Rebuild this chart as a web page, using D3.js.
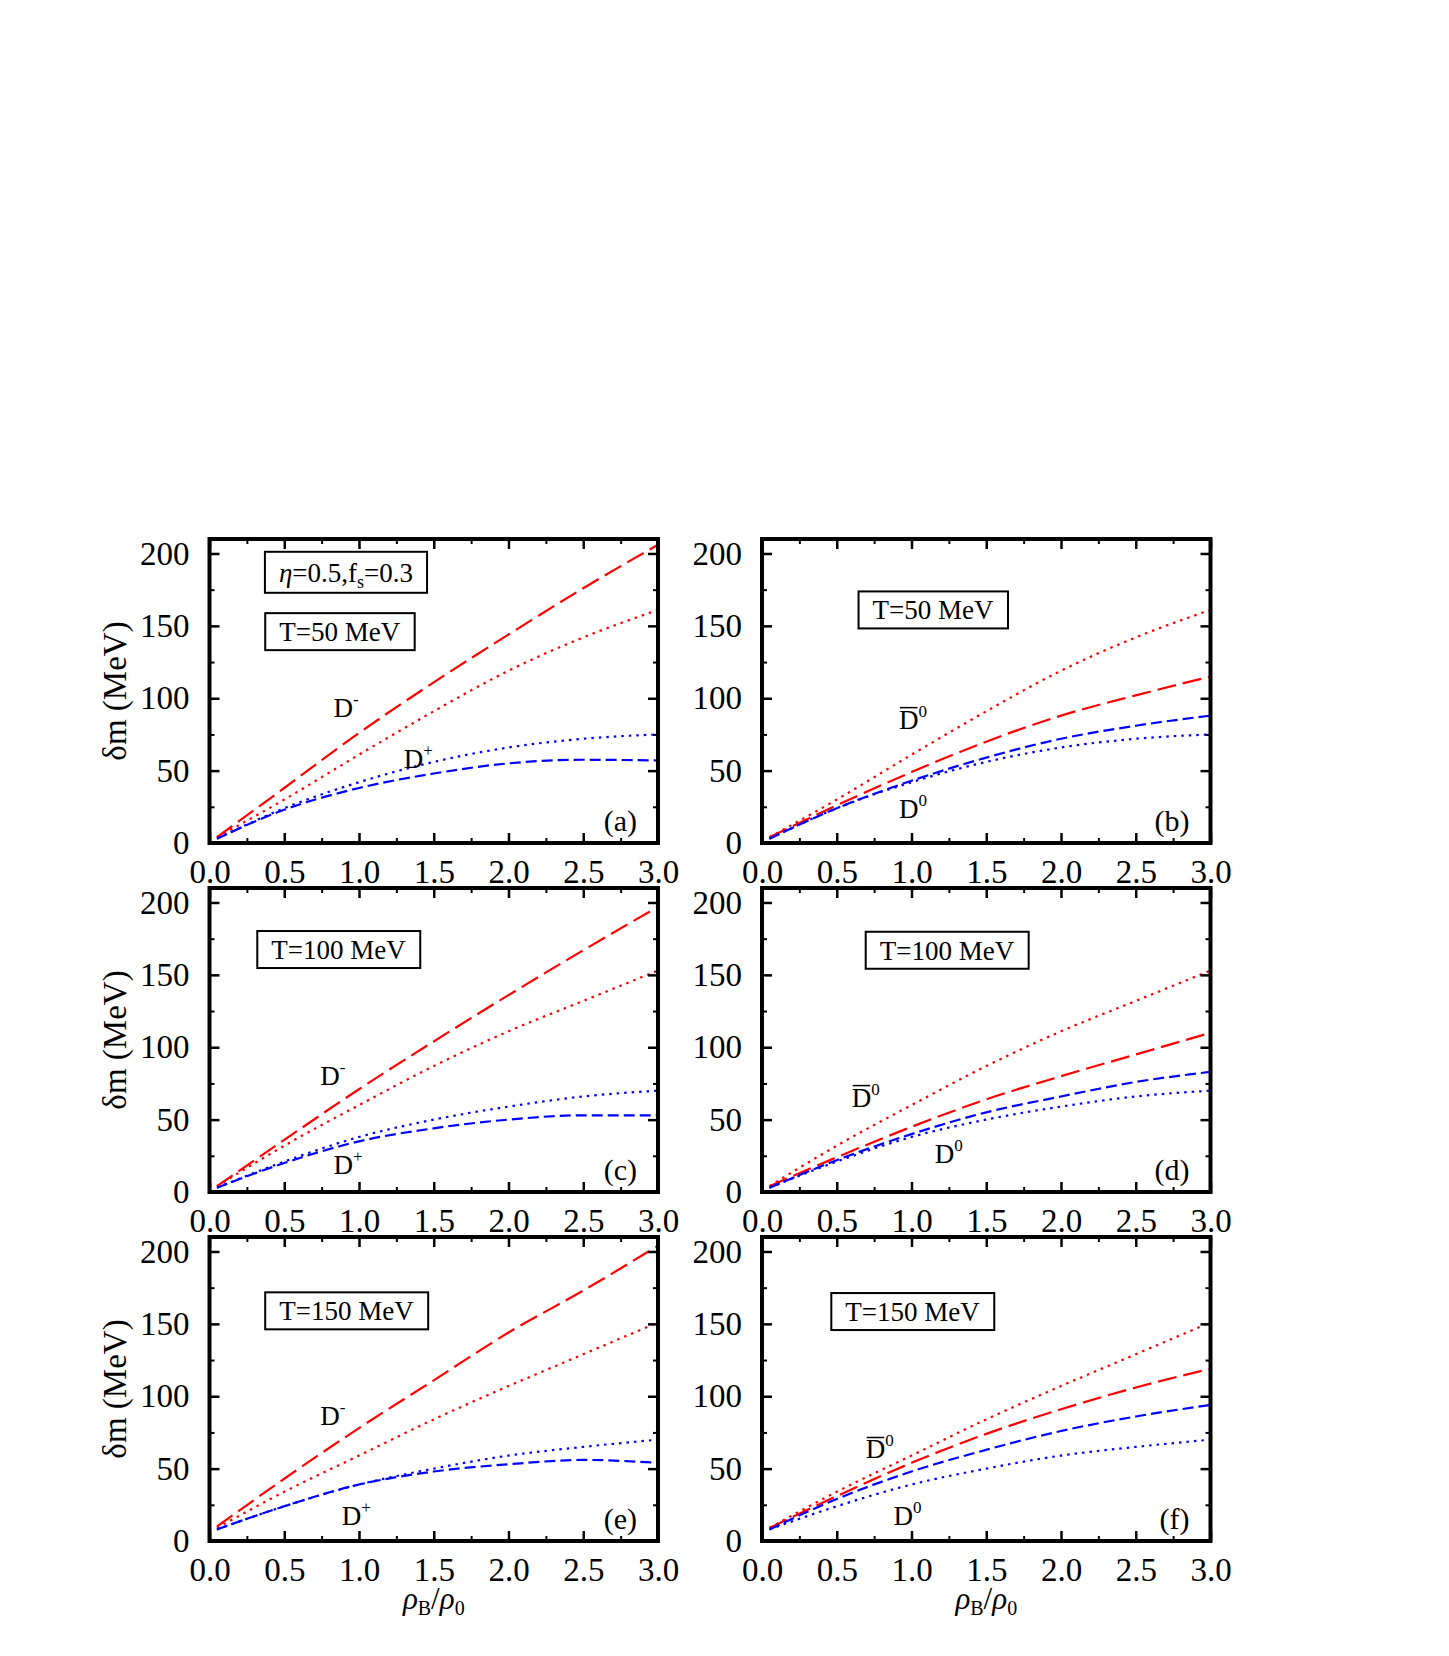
<!DOCTYPE html>
<html>
<head>
<meta charset="utf-8">
<script src="https://cdn.jsdelivr.net/npm/d3@7"></script>
<style>
body { margin: 0; background: #fff; }
svg text { font-family: "Liberation Serif", "Times New Roman", serif; fill: #000; }
</style>
</head>
<body>
<svg width="1449" height="1656"></svg>
<script>
// density points rho_B/rho_0
const rho = [0.05, 0.5, 1.0, 1.5, 2.0, 2.5, 3.0]

// T = 50 MeV
const t50Dminus = [4, 38, 76, 111, 144, 176, 206]
const t50Dplus = [3, 23, 38, 48, 55, 57.5, 57]
const t50D0bar = [4, 26, 49, 70, 88, 102, 115]
const t50D0 = [3, 24, 43, 59, 72, 81, 88]
const t50RedDot = [4, 30, 61, 91, 119, 142, 161]
const t50BlueDot = [3, 24, 42, 56, 66, 72, 75]

// T = 100 MeV
const t100Dminus = [4, 36, 71, 104, 136, 167, 197]
const t100Dplus = [3, 20, 35, 44, 50, 53, 53]
const t100D0bar = [4, 24, 45, 64, 80, 95, 110]
const t100D0 = [3, 22, 40, 55, 66, 76, 83]
const t100RedDot = [4, 32, 60, 87, 111, 132, 153]
const t100BlueDot = [3, 21, 38, 50, 59, 66, 70]

// T = 150 MeV
const t150Dminus = [10, 43, 78, 111, 144, 173, 204]
const t150Dplus = [8, 24, 39, 48, 53, 56, 54]
const t150D0bar = [9, 31, 54, 74, 91, 106, 119]
const t150D0 = [8, 29, 48, 63, 76, 86, 94]
const t150RedDot = [9, 34, 59, 84, 107, 129, 151]
const t150BlueDot = [8, 24, 39, 50, 59, 65, 70]

const xMajor = [0, 0.5, 1.0, 1.5, 2.0, 2.5, 3.0]
const xMinor = [0.25, 0.75, 1.25, 1.75, 2.25, 2.75]
const yMajor = [0, 50, 100, 150, 200]
const yMinor = [25, 75, 125, 175]

const svg = d3.select('svg')

const colLeft = [209.5, 762],
    rowTop = [539, 888, 1237],
    pw = 448.5,
    ph = 304

const dashes = {
    long: '19,7',
    dash: '11,5',
    dot: '2.5,5'
}
const colors = { red: '#ff0000', blue: '#0000ff' }

const panels = [
    { tag: '(a)', col: 0, row: 0,
      series: [[t50Dminus, 'red', 'long'], [t50RedDot, 'red', 'dot'], [t50BlueDot, 'blue', 'dot'], [t50Dplus, 'blue', 'dash']],
      boxes: [['eta', 0.913, 187], ['T=50 MeV', 0.871, 146]],
      names: [['-', false, 0.83, 87], ['+', false, 1.30, 52]] },
    { tag: '(b)', col: 1, row: 0,
      series: [[t50RedDot, 'red', 'dot'], [t50D0bar, 'red', 'long'], [t50D0, 'blue', 'dash'], [t50BlueDot, 'blue', 'dot']],
      boxes: [['T=50 MeV', 1.144, 161]],
      names: [['0', true, 0.916, 79], ['0', false, 0.916, 17]] },
    { tag: '(c)', col: 0, row: 1,
      series: [[t100Dminus, 'red', 'long'], [t100RedDot, 'red', 'dot'], [t100BlueDot, 'blue', 'dot'], [t100Dplus, 'blue', 'dash']],
      boxes: [['T=100 MeV', 0.863, 167.5]],
      names: [['-', false, 0.74, 74], ['+', false, 0.83, 12.5]] },
    { tag: '(d)', col: 1, row: 1,
      series: [[t100RedDot, 'red', 'dot'], [t100D0bar, 'red', 'long'], [t100D0, 'blue', 'dash'], [t100BlueDot, 'blue', 'dot']],
      boxes: [['T=100 MeV', 1.237, 167]],
      names: [['0', true, 0.6, 59], ['0', false, 1.155, 20]] },
    { tag: '(e)', col: 0, row: 2,
      series: [[t150Dminus, 'red', 'long'], [t150RedDot, 'red', 'dot'], [t150BlueDot, 'blue', 'dot'], [t150Dplus, 'blue', 'dash']],
      boxes: [['T=150 MeV', 0.916, 159]],
      names: [['-', false, 0.74, 80], ['+', false, 0.884, 11]] },
    { tag: '(f)', col: 1, row: 2,
      series: [[t150RedDot, 'red', 'dot'], [t150D0bar, 'red', 'long'], [t150D0, 'blue', 'dash'], [t150BlueDot, 'blue', 'dot']],
      boxes: [['T=150 MeV', 1.007, 158.5]],
      names: [['0', true, 0.694, 57], ['0', false, 0.88, 11]] }
]

const xScale = d3.scaleLinear().domain([0, 3]).range([0, pw])
const yScale = d3.scaleLinear().domain([0, 210]).range([ph, 0])

const line = d3.line()
    .x(d => xScale(d[0]))
    .y(d => yScale(d[1]))
    .curve(d3.curveMonotoneX)

const styleAxis = (g, width) => {
    g.attr('font-family', null).attr('font-size', null)
    g.select('.domain').remove()
    g.selectAll('line').attr('stroke', '#000').attr('stroke-width', width)
    g.selectAll('text').attr('font-size', 33)
}

panels.forEach(p => {
    const g = svg.append('g')
        .attr('transform', `translate(${colLeft[p.col]},${rowTop[p.row]})`)

    // curves
    p.series.forEach(([vals, col, dash]) => {
        g.append('path')
            .datum(rho.map((r, i) => [r, vals[i]]))
            .attr('d', line)
            .attr('fill', 'none')
            .attr('stroke', colors[col])
            .attr('stroke-width', 2.2)
            .attr('stroke-dasharray', dashes[dash])
    })

    //axes, ticks pointing inwards on all sides
    g.append('g').attr('transform', `translate(0,${ph})`)
        .call(d3.axisBottom(xScale).tickValues(xMajor).tickSize(-10).tickPadding(17).tickFormat(d3.format('.1f')))
        .call(s => styleAxis(s, 2.5))
    g.append('g').attr('transform', `translate(0,${ph})`)
        .call(d3.axisBottom(xScale).tickValues(xMinor).tickSize(-5).tickFormat(''))
        .call(s => styleAxis(s, 2))
    g.append('g')
        .call(d3.axisTop(xScale).tickValues(xMajor).tickSize(-10).tickFormat(''))
        .call(s => styleAxis(s, 2.5))
    g.append('g')
        .call(d3.axisTop(xScale).tickValues(xMinor).tickSize(-5).tickFormat(''))
        .call(s => styleAxis(s, 2))
    g.append('g')
        .call(d3.axisLeft(yScale).tickValues(yMajor).tickSize(-10).tickPadding(20))
        .call(s => styleAxis(s, 2.5))
    g.append('g')
        .call(d3.axisLeft(yScale).tickValues(yMinor).tickSize(-5).tickFormat(''))
        .call(s => styleAxis(s, 2))
    g.append('g').attr('transform', `translate(${pw},0)`)
        .call(d3.axisRight(yScale).tickValues(yMajor).tickSize(-10).tickFormat(''))
        .call(s => styleAxis(s, 2.5))
    g.append('g').attr('transform', `translate(${pw},0)`)
        .call(d3.axisRight(yScale).tickValues(yMinor).tickSize(-5).tickFormat(''))
        .call(s => styleAxis(s, 2))

    g.append('rect')
        .attr('width', pw)
        .attr('height', ph)
        .attr('fill', 'none')
        .attr('stroke', '#000')
        .attr('stroke-width', 4)

    // framed labels
    p.boxes.forEach(([txt, bx, by]) => {
        const isEta = txt === 'eta'
        const t = g.append('text')
            .attr('x', xScale(bx))
            .attr('y', yScale(by))
            .attr('dy', '0.35em')
            .attr('text-anchor', 'middle')
            .attr('font-size', 27)
        if (isEta) {
            t.append('tspan').attr('font-style', 'italic').text('η')
            t.append('tspan').text('=0.5,f')
            t.append('tspan').attr('font-size', 18).attr('dy', 6).text('s')
            t.append('tspan').attr('dy', -6).text('=0.3')
        } else {
            t.text(txt)
        }
        const bb = t.node().getBBox()
        g.insert('rect', () => t.node())
            .attr('x', bb.x - 14)
            .attr('y', yScale(by) - (isEta ? 20.5 : 18.5))
            .attr('width', bb.width + 28)
            .attr('height', isEta ? 41 : 37)
            .attr('fill', '#fff')
            .attr('stroke', '#000')
            .attr('stroke-width', 2)
    })

    // particle names
    p.names.forEach(([sup, bar, nx, ny]) => {
        const t = g.append('text')
            .attr('x', xScale(nx))
            .attr('y', yScale(ny))
            .attr('font-size', 27)
        t.append('tspan').text('D')
        t.append('tspan').attr('font-size', 17).attr('dy', -12).text(sup)
        if (bar) {
            const r = t.node().getExtentOfChar(0)
            g.append('line')
                .attr('x1', r.x + 1).attr('x2', r.x + r.width - 1)
                .attr('y1', yScale(ny) - 21).attr('y2', yScale(ny) - 21)
                .attr('stroke', '#000').attr('stroke-width', 1.5)
        }
    })

    g.append('text')
        .attr('x', xScale(2.86))
        .attr('y', yScale(8))
        .attr('text-anchor', 'end')
        .attr('font-size', 30)
        .text(p.tag)

    if (p.col === 0) {
        g.append('text')
            .attr('transform', `translate(-84,${ph / 2}) rotate(-90)`)
            .attr('text-anchor', 'middle')
            .attr('font-size', 33)
            .text('δm (MeV)')
    }
    if (p.row === 2) {
        const t = g.append('text')
            .attr('x', pw / 2)
            .attr('y', ph + 68)
            .attr('text-anchor', 'middle')
            .attr('font-size', 31)
        t.append('tspan').attr('font-style', 'italic').text('ρ')
        t.append('tspan').attr('font-size', 20).attr('dy', 6).text('B')
        t.append('tspan').attr('dy', -6).text('/')
        t.append('tspan').attr('font-style', 'italic').text('ρ')
        t.append('tspan').attr('font-size', 20).attr('dy', 6).text('0')
    }
})
</script>
</body>
</html>
